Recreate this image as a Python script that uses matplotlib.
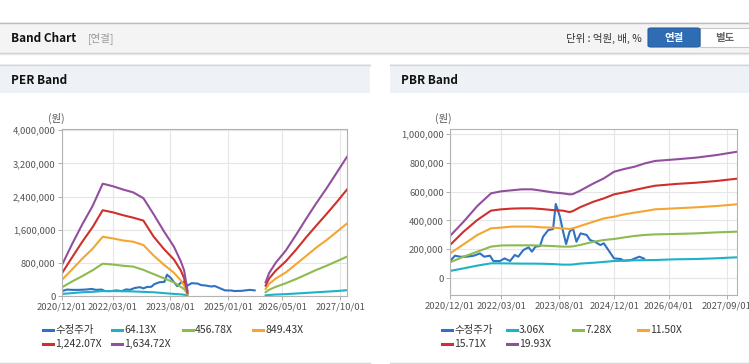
import numpy as np
import pandas as pd
import matplotlib
matplotlib.use('Agg')
import matplotlib.pyplot as plt
from matplotlib.lines import Line2D
from matplotlib.patches import Rectangle, FancyBboxPatch
from matplotlib.ticker import FuncFormatter

plt.rcParams['font.family'] = ['Noto Sans CJK KR', 'DejaVu Sans']

# PER band (천원), None = no band (negative EPS)
perDates = ['2020-12-01', '2021-03-01', '2021-06-01', '2021-09-01', '2021-12-01',
            '2022-03-01', '2022-06-01', '2022-09-01', '2022-12-01', '2023-03-01',
            '2023-06-01', '2023-09-01', '2023-11-01', '2023-12-01', '2024-01-01',
            '2024-12-01',
            '2025-12-01', '2026-01-01', '2026-03-01', '2026-06-01', '2026-09-01',
            '2026-12-01', '2027-03-01', '2027-06-01', '2027-09-01', '2027-12-01']
per64 = [50, 70, 90, 100, 120, 120, 115, 110, 100, 90, 70, 50, 40, 30, 20, None,
         15, 25, 35, 45, 60, 75, 90, 105, 120, 140]
per456 = [210, 350, 480, 620, 780, 760, 730, 710, 630, 530, 430, 330, 220, 170, 50, None,
          90, 150, 220, 310, 410, 520, 630, 730, 840, 950]
per849 = [390, 640, 900, 1140, 1430, 1390, 1340, 1310, 1230, 980, 760, 560, 380, 260, 60, None,
          170, 290, 420, 570, 770, 970, 1170, 1350, 1550, 1750]
per1242 = [550, 930, 1310, 1660, 2070, 2020, 1950, 1890, 1820, 1440, 1140, 880, 620, 430, 80, None,
           250, 420, 610, 840, 1120, 1420, 1700, 1980, 2270, 2570]
per1634 = [750, 1250, 1730, 2170, 2710, 2650, 2570, 2500, 2360, 1980, 1570, 1190, 840, 620, 120, None,
           330, 550, 800, 1100, 1480, 1870, 2240, 2600, 2980, 3360]

# PBR band (천원)
pbrDates = ['2020-12-01', '2021-04-01', '2021-08-01', '2021-12-01', '2022-03-01',
            '2022-06-01', '2022-09-01', '2022-12-01', '2023-03-01', '2023-06-01',
            '2023-09-01', '2023-11-01', '2023-12-01', '2024-02-01', '2024-06-01',
            '2024-09-01', '2024-12-01', '2025-03-01', '2025-06-01', '2025-09-01',
            '2025-12-01', '2026-06-01', '2026-12-01', '2027-06-01', '2027-12-01']
pbr306 = [49, 67, 86, 102, 102, 101, 100, 100, 99, 97, 93, 93, 94, 100, 106, 112, 118, 120, 123, 124,
          125, 130, 132, 137, 144]
pbr728 = [109, 148, 183, 218, 226, 227, 227, 227, 225, 222, 218, 218, 220, 229, 252, 264, 271, 282, 292, 299,
          303, 306, 310, 317, 322]
pbr1150 = [171, 234, 299, 345, 350, 357, 357, 357, 352, 350, 345, 340, 345, 361, 391, 414, 426, 442, 454, 465,
           477, 484, 491, 500, 512]
pbr1571 = [229, 322, 403, 468, 477, 482, 484, 484, 479, 472, 468, 458, 465, 491, 530, 553, 581, 595, 611, 627,
           641, 653, 662, 674, 690]
pbr1993 = [292, 391, 500, 588, 602, 609, 616, 616, 606, 595, 588, 581, 583, 606, 657, 692, 738, 757, 773, 796,
           813, 824, 836, 854, 877]

# 수정주가 (천원)
priceDates = ['2020-12-01', '2021-01-15', '2021-03-01', '2021-05-01', '2021-07-01', '2021-08-25',
              '2021-10-01', '2021-11-22', '2021-12-22', '2022-02-18', '2022-04-01', '2022-05-20',
              '2022-07-01', '2022-08-01', '2022-09-15', '2022-11-01', '2022-12-01', '2023-01-01',
              '2023-02-10', '2023-03-10', '2023-04-25', '2023-06-07', '2023-07-01', '2023-08-07',
              '2023-09-01', '2023-10-01', '2023-11-01', '2023-12-01', '2024-01-01', '2024-02-07',
              '2024-04-01', '2024-05-01', '2024-06-13', '2024-08-01', '2024-09-01', '2024-10-01',
              '2024-12-01', '2025-02-01', '2025-02-22', '2025-05-01', '2025-07-13', '2025-08-25']
price = [118, 155, 148, 148, 155, 171, 148, 155, 118, 118, 136, 118, 160, 148, 194, 213, 183, 218,
         222, 287, 333, 340, 514, 426, 333, 236, 322, 345, 252, 310, 299, 264, 252, 229, 241, 206,
         136, 132, 120, 125, 148, 135]

perLabels = ['수정주가', '64.13X', '456.78X', '849.43X', '1,242.07X', '1,634.72X']
pbrLabels = ['수정주가', '3.06X', '7.28X', '11.50X', '15.71X', '19.93X']
perTicks = ['2020-12-01', '2022-03-01', '2023-08-01', '2025-01-01', '2026-05-01', '2027-10-01']
pbrTicks = ['2020-12-01', '2022-03-01', '2023-08-01', '2024-12-01', '2026-04-01', '2027-09-01']
colors = ['#2f72c4', '#1fb1c6', '#8dbb4e', '#f4a532', '#cf302c', '#924f9d']

W, H = 749, 364
fig = plt.figure(figsize=(W / 100, H / 100), dpi=100)
fig.patch.set_facecolor('white')

def fx(x):
  return x / W

def fy(y):
  return 1 - y / H

def hline(x0, x1, y, color, lw=1.0):
  fig.add_artist(Line2D([fx(x0), fx(x1)], [fy(y), fy(y)], color=color, lw=lw, transform=fig.transFigure))

def rect(x, y, w, h, fc, ec='none', z=0):
  fig.add_artist(Rectangle((fx(x), fy(y + h)), w / W, h / H, fc=fc, ec=ec, lw=0.8,
                           transform=fig.transFigure, zorder=z))

# top header bar
rect(0, 22, W, 31, '#f4f4f4')
hline(0, W, 22.5, '#bdbdbd')
hline(0, W, 52.5, '#cfcfcf')
hline(0, W, 53.5, '#e8e8e8')
fig.text(fx(11), fy(38), 'Band Chart', fontsize=8.5, fontweight='bold', color='#111', va='center')
fig.text(fx(88), fy(38), '[연결]', fontsize=7.5, color='#999', va='center')
fig.text(fx(642), fy(38), '단위 : 억원, 배, %', fontsize=7.5, color='#333', va='center', ha='right')
fig.add_artist(FancyBboxPatch((fx(648), fy(47)), 52 / W, 19 / H, boxstyle='round,pad=0,rounding_size=0.004',
                              fc='#2e6cb4', ec='#285f9f', lw=0.8, transform=fig.transFigure))
fig.text(fx(674), fy(37.5), '연결', fontsize=7.5, fontweight='bold', color='white', va='center', ha='center')
rect(700, 28, 52, 19, 'white', '#c9c9c9')
fig.text(fx(725), fy(37.5), '별도', fontsize=7.5, fontweight='bold', color='#666', va='center', ha='center')

# panel headers
for x0, x1, title in [(0, 370, 'PER Band'), (390, W, 'PBR Band')]:
  rect(x0, 64, x1 - x0, 29, '#eef1f6')
  hline(x0, x1, 64.5, '#d6d6d6')
  hline(x0, x1, 362.5, '#d6d6d6')
  fig.text(fx(x0 + 11), fy(80), title, fontsize=8.5, fontweight='bold', color='#111', va='center')

def drawBand(ax, dates, bands, xticks, ylim, yticks):
  pDates = pd.to_datetime(priceDates)
  ax.plot(pDates, np.array(price) * 1000, color=colors[0], lw=1.5)
  d = pd.to_datetime(dates)
  for vals, c in zip(bands, colors[1:]):
    v = np.array([np.nan if a is None else a * 1000 for a in vals], dtype=float)
    ax.plot(d, v, color=c, lw=1.5)
  ax.set_xlim(pd.Timestamp('2020-12-01'), pd.Timestamp('2027-12-01'))
  ax.set_ylim(*ylim)
  ax.set_yticks(yticks)
  ax.set_xticks(pd.to_datetime(xticks))
  ax.set_xticklabels([t.replace('-', '/') for t in xticks])
  ax.yaxis.set_major_formatter(FuncFormatter(lambda v, i: f'{v:,.0f}'))
  ax.grid(True, color='#e6e6e6', lw=0.8)
  ax.set_axisbelow(True)
  for s in ax.spines.values():
    s.set_color('#b3b3b3')
    s.set_linewidth(0.8)
  ax.tick_params(direction='out', length=3, width=0.6, color='#a0a0a0', pad=1.5,
                 labelsize=6.8, labelcolor='#555')

axPer = fig.add_axes([fx(62), fy(296), 285 / W, 167 / H])
drawBand(axPer, perDates, [per64, per456, per849, per1242, per1634], perTicks,
         (0, 4030000), [0, 800000, 1600000, 2400000, 3200000, 4000000])

axPbr = fig.add_axes([fx(450), fy(295), 287 / W, 166 / H])
drawBand(axPbr, pbrDates, [pbr306, pbr728, pbr1150, pbr1571, pbr1993], pbrTicks,
         (-118000, 1035000), [0, 200000, 400000, 600000, 800000, 1000000])

fig.text(fx(48), fy(118), '(원)', fontsize=7.5, color='#555', va='center')
fig.text(fx(435), fy(118), '(원)', fontsize=7.5, color='#555', va='center')

# legends
def legend(labels, cols):
  rows = [330, 344]
  for i, (lab, c) in enumerate(zip(labels, colors)):
    x = cols[i % 4]
    y = rows[i // 4]
    fig.add_artist(Line2D([fx(x), fx(x + 10)], [fy(y), fy(y)], color=c, lw=2.2,
                          transform=fig.transFigure))
    fig.text(fx(x + 12), fy(y), lab, fontsize=7.5, color='#333', va='center')

legend(perLabels, [43, 112, 183, 253])
legend(pbrLabels, [442, 507, 573, 638])

fig.savefig('out.png', dpi=100)
